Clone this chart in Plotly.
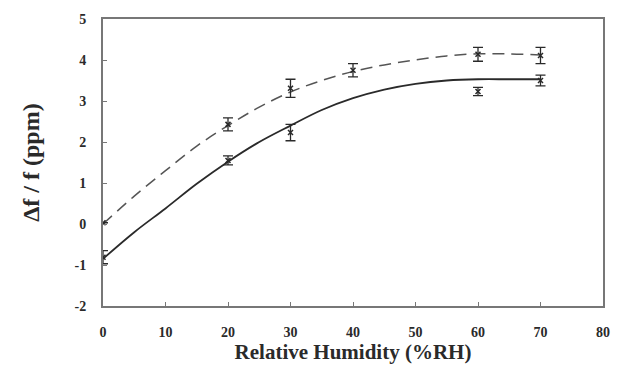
import plotly.graph_objects as go

# measured points
x_dash = [0, 20, 30, 40, 60, 70]
y_dash = [0.03, 2.43, 3.31, 3.75, 4.14, 4.11]
e_dash = [0.0, 0.16, 0.22, 0.16, 0.17, 0.2]

x_sol = [0, 20, 30, 60, 70]
y_sol = [-0.81, 1.55, 2.23, 3.23, 3.5]
e_sol = [0.16, 0.11, 0.2, 0.1, 0.13]

# fitted curves
x_fit = [0, 5, 10, 15, 20, 25, 30, 35, 40, 45, 50, 55, 60, 65, 70]
y_fit_dash = [0.0, 0.68, 1.3, 1.9, 2.4, 2.85, 3.22, 3.5, 3.72, 3.88, 4.0, 4.1, 4.15, 4.15, 4.12]
y_fit_sol = [-0.85, -0.2, 0.38, 0.98, 1.52, 2.0, 2.4, 2.78, 3.07, 3.28, 3.42, 3.5, 3.53, 3.53, 3.53]

x_ticks = [0, 10, 20, 30, 40, 50, 60, 70, 80]
y_ticks = [-2, -1, 0, 1, 2, 3, 4, 5]

ink = "#2a2a2a"
fig = go.Figure()
fig.add_trace(go.Scatter(x=x_fit, y=y_fit_dash, mode="lines", line=dict(color="#555", width=1.5, dash="12px,7px", shape="spline"), showlegend=False))
fig.add_trace(go.Scatter(x=x_fit, y=y_fit_sol, mode="lines", line=dict(color=ink, width=1.8, shape="spline"), showlegend=False))
fig.add_trace(go.Scatter(x=x_dash, y=y_dash, mode="markers", marker=dict(symbol="x-thin", size=5, color=ink, line=dict(width=1.5, color=ink)),
                         error_y=dict(type="data", array=e_dash, color=ink, thickness=1.3, width=5), showlegend=False))
fig.add_trace(go.Scatter(x=x_sol, y=y_sol, mode="markers", marker=dict(symbol="x-thin", size=5, color=ink, line=dict(width=1.5, color=ink)),
                         error_y=dict(type="data", array=e_sol, color=ink, thickness=1.3, width=5), showlegend=False))

font_b = "Liberation Serif"
fig.update_layout(
    width=622, height=374,
    margin=dict(l=103, r=15, t=15, b=68),
    paper_bgcolor="white", plot_bgcolor="white",
    font=dict(family=font_b, color=ink),
    xaxis=dict(range=[0, 80], tickvals=x_ticks, ticktext=[f"<b>{v}</b>" for v in x_ticks],
               ticks="inside", ticklen=4, tickcolor="#777", showline=True, linecolor="#777", linewidth=2, mirror=True,
               showgrid=False, zeroline=False, tickfont=dict(size=14, family=font_b), ticklabelstandoff=12,
               title=dict(text="<b>Relative Humidity (%RH)</b>", font=dict(size=21, family=font_b), standoff=4)),
    yaxis=dict(range=[-2, 5], tickvals=y_ticks, ticktext=[f"<b>{v}</b>" for v in y_ticks],
               ticks="inside", ticklen=4, tickcolor="#777", showline=True, linecolor="#777", linewidth=2, mirror=True,
               showgrid=False, zeroline=False, tickfont=dict(size=14, family=font_b), ticklabelstandoff=12,
               title=dict(text="<b>Δf / f (ppm)</b>", font=dict(size=24, family=font_b), standoff=28)),
)
fig.write_html("out.html")
